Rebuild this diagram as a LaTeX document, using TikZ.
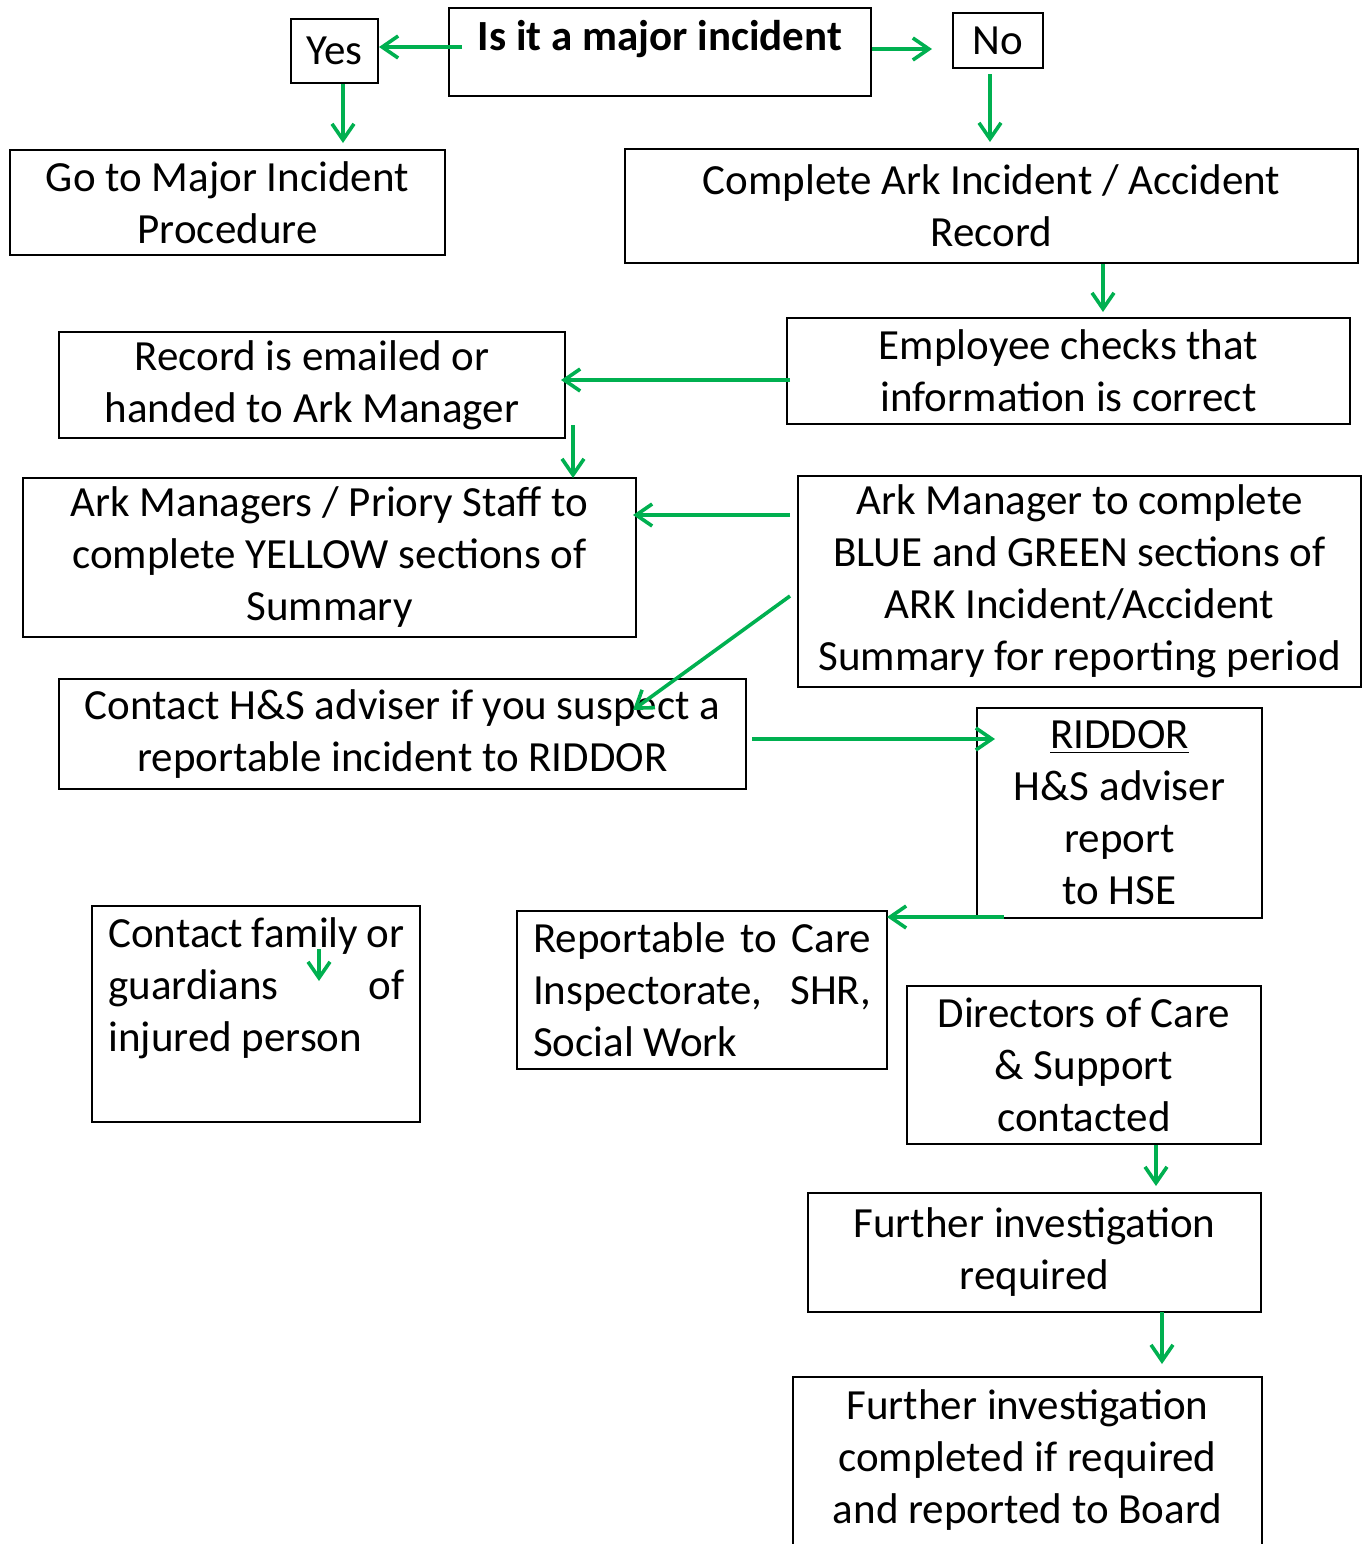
\documentclass[tikz,border=0pt]{standalone}
\usepackage{fontspec}
\setmainfont{Carlito}
\usetikzlibrary{arrows.meta}
\definecolor{grn}{HTML}{00B050}
\newcommand\fsz{\fontsize{21.5}{26}\selectfont}
\newcommand\normsp{\spaceskip=0pt\xspaceskip=0pt\relax}
\begin{document}
\begin{tikzpicture}[x=0.5pt,y=-0.5pt,
  box/.style={draw, line width=1pt, inner sep=0pt, align=center, font=\fsz},
  txt/.style={inner sep=0pt, font=\fsz},
  arr/.style={draw=grn, line width=1.8pt, -{Straight Barb[length=8pt,width=11pt]}}]
\useasboundingbox (0,0) rectangle (1367,1544);
\clip (0,0) rectangle (1367,1544);
% boxes
\node[box, minimum width=43.5pt, minimum height=32pt] (yes) at (334.5,51) {Yes};
\node[box, minimum width=211pt, minimum height=44pt] (major) at (660,52) {};
\node[txt, anchor=base, font=\fsz\bfseries] (majt) at (660,50) {Is it a major incident};
\node[box, minimum width=45pt, minimum height=27.5pt] (no) at (998,40.5) {No};
\node[box, minimum width=217.5pt, minimum height=52.5pt] (go) at (227.5,202.5) {Go to Major Incident\\Procedure};
\node[box, minimum width=366.5pt, minimum height=57pt] (complete) at (991.5,206) {Complete Ark Incident / Accident\\Record};
\node[box, minimum width=281.5pt, minimum height=53pt] (employee) at (1068.5,371) {Employee checks that\\information is correct};
\node[box, minimum width=253pt, minimum height=53pt] (record) at (312,385) {Record is emailed or\\handed to Ark Manager};
\node[box, minimum width=306.5pt, minimum height=79.5pt] (arkmgrs) at (329.5,557.5) {Ark Managers / Priory Staff to\\complete YELLOW sections of\\Summary};
\node[box, minimum width=281.5pt, minimum height=105.5pt] (arkmgr) at (1079.5,581.5) {Ark Manager to complete\\BLUE and GREEN sections of\\ARK Incident/Accident\\Summary for reporting period};
\node[box, minimum width=343.5pt, minimum height=55pt] (contact) at (402.5,734) {Contact H\&S adviser if you suspect a\\reportable incident to RIDDOR};
\node[box, minimum width=142.5pt, minimum height=105pt] (riddor) at (1119.5,813) {\underline{RIDDOR}\\H\&S adviser\\report\\to HSE};
\node[box, minimum width=164pt, minimum height=108pt] (family) at (256,1014) {};
\node[txt, anchor=north west, text width=148pt, align=left] (famt) at (108,917) {\normsp Contact\hfill family\hfill or\\guardians\hfill of\\injured person};
\node[box, minimum width=185pt, minimum height=79pt, text width=169pt, align=left] (report) at (702,990) {\normsp Reportable\hfill to\hfill Care\\Inspectorate,\hfill SHR,\\Social Work};
\node[box, minimum width=177pt, minimum height=79pt] (directors) at (1084,1065) {Directors of Care\\\& Support\\contacted};
\node[box, minimum width=226.5pt, minimum height=59.5pt] (furtherreq) at (1034.5,1252.5) {Further investigation\\required};
\node[box, minimum width=234.5pt, minimum height=111.5pt] (board) at (1027.5,1488.5) {};
\node[txt, align=center] (boardt) at (1027.5,1460) {Further investigation\\completed if required\\and reported to Board};
% connectors
\draw[arr] ([shift={(14,-5)}]major.west) -- ([shift={(0,-4)}]yes.east);
\draw[arr] ([shift={(0,-3)}]major.east) -- ([shift={(-20,8.5)}]no.west);
\draw[arr] ([shift={(8.5,0)}]yes.south) -- ++(0,59);
\draw[arr] ([shift={(-8,5)}]no.south) -- ++(0,68);
\draw[arr] ([shift={(111.5,0)}]complete.south) -- ++(0,48);
\draw[arr] ([shift={(4,9)}]employee.west) -- ++(-229,0);
\draw[arr] ([shift={(7,-14)}]record.south east) -- ++(0,53);
\draw[arr] ([shift={(-7,-66.5)}]arkmgr.west) -- ++(-157,0);
\draw[arr] ([shift={(-7,14.5)}]arkmgr.west) -- ++(-157,114);
\draw[arr] ([shift={(5,5)}]contact.east) -- ++(243,0);
\draw[arr] ([shift={(28,-2)}]riddor.south west) -- ++(-117,0);
\draw[arr] ([shift={(72,0)}]directors.south) -- ++(0,41);
\draw[arr] ([shift={(127.5,-1)}]furtherreq.south) -- ++(0,52);
\coordinate (famarr) at ([shift={(228,44)}]family.north west);
\draw[arr] (famarr) -- ++(0,32);
\end{tikzpicture}
\end{document}
